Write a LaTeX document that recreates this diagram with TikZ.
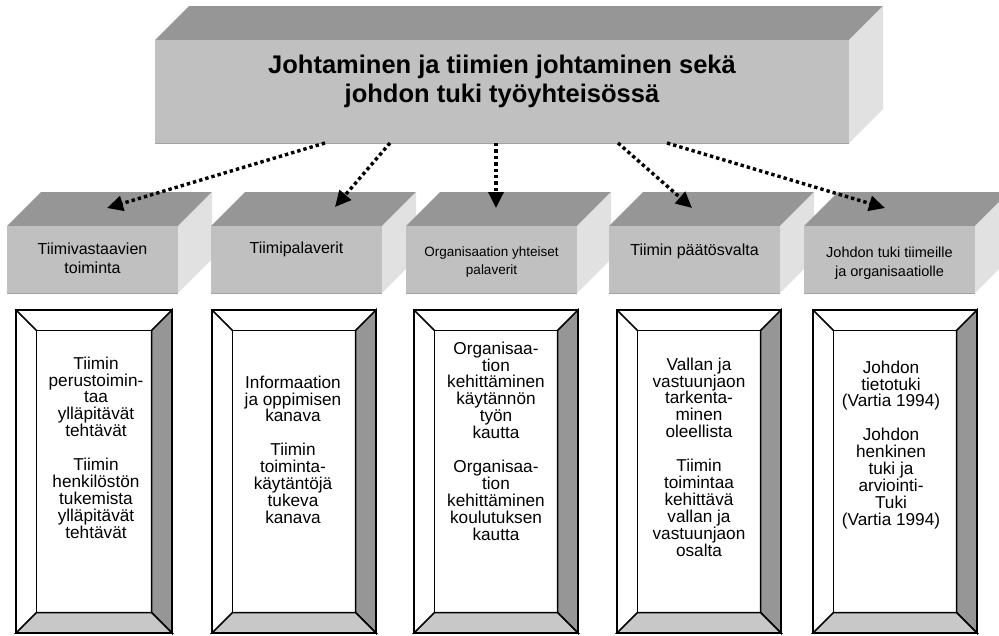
\documentclass[tikz,border=0pt]{standalone}
\usepackage{fontspec}
\setmainfont{Liberation Sans}
\usetikzlibrary{arrows.meta}

\definecolor{facetop}{RGB}{150,150,150}
\definecolor{facefront}{RGB}{192,192,192}
\definecolor{faceside}{RGB}{225,225,225}
\definecolor{bevelright}{RGB}{150,150,150}
\definecolor{bevelbottom}{RGB}{200,200,200}

% 3-D block: left, top, right, bottom, depth
\newcommand{\cuboid}[5]{%
  \fill[facetop] (#1,#2) -- (#1+#5,#2-#5) -- (#3+#5,#2-#5) -- (#3,#2) -- cycle;
  \fill[faceside] (#3,#2) -- (#3+#5,#2-#5) -- (#3+#5,#4-#5) -- (#3,#4) -- cycle;
  \fill[facefront] (#1,#2) rectangle (#3,#4);
  \draw[facefront!85!black, line width=1pt] (#1,#4) -- (#3,#4);
}

% bevelled picture frame: left, top, right, bottom, bevel width
\newcommand{\bevelframe}[5]{%
  \fill[white] (#1,#2) rectangle (#3,#4);
  \filldraw[framestroke, fill=bevelright] (#3,#2) -- (#3,#4) -- (#3-#5,#4-#5) -- (#3-#5,#2+#5) -- cycle;
  \filldraw[framestroke, fill=bevelbottom] (#1,#4) -- (#3,#4) -- (#3-#5,#4-#5) -- (#1+#5,#4-#5) -- cycle;
  \draw[framestroke] (#1,#2) -- (#1+#5,#2+#5);
  \draw[framestroke] (#1+#5,#2+#5) rectangle (#3-#5,#4-#5);
  \draw[framestroke] (#1,#2) rectangle (#3,#4);
}

\tikzset{
  framestroke/.style={draw=black, line width=1.5pt, line join=miter},
  headtext/.style={align=center, inner sep=0pt, font=\bfseries\fontsize{25.5}{29}\selectfont},
  blocktext/.style={align=center, inner sep=0pt, anchor=north},
  frametext/.style={align=center, inner sep=0pt, anchor=north, font=\fontsize{17.2}{16.9}\selectfont},
  dotarrow/.style={line width=3.4pt, dash pattern=on 3.4pt off 3pt,
    -{Triangle[length=16pt,width=15pt]}},
}

\begin{document}
\begin{tikzpicture}[x=1pt, y=-1pt]
\useasboundingbox (0,0) rectangle (999,635);
\clip (0,0) rectangle (999,635);

% main block
\cuboid{155}{40}{849}{143}{34}
\node[headtext] (head) at (502,81) {Johtaminen ja tiimien johtaminen sekä\\johdon tuki työyhteisössä};

% second-level blocks
\cuboid{7}{226}{178}{293}{34}
\cuboid{211}{226}{382}{293}{34}
\cuboid{406}{226}{577}{293}{34}
\cuboid{609}{226}{780}{293}{34}
\cuboid{804}{226}{975}{293}{34}

\node[blocktext, font=\fontsize{16}{19}\selectfont] (c1) at (92.5,243) {Tiimivastaavien\\toiminta};
\node[blocktext, font=\fontsize{16}{19}\selectfont] (c2) at (296.5,242) {Tiimipalaverit};
\node[blocktext, font=\fontsize{13.5}{18}\selectfont] (c3) at (491.5,247) {Organisaation yhteiset\\palaverit};
\node[blocktext, font=\fontsize{16}{19}\selectfont] (c4) at (694.5,244) {Tiimin päätösvalta};
\node[blocktext, font=\fontsize{14.5}{18.5}\selectfont] (c5) at (889.5,247) {Johdon tuki tiimeille\\ja organisaatiolle};

% connectors
\coordinate (a1s) at (325,143); \coordinate (a1e) at (107,208);
\coordinate (a2s) at (390,143); \coordinate (a2e) at (335,207);
\coordinate (a3s) at (496,143); \coordinate (a3e) at (496,208);
\coordinate (a4s) at (618,143); \coordinate (a4e) at (692,208);
\coordinate (a5s) at (667,143); \coordinate (a5e) at (885,208);
\foreach \k in {1,...,5} {\draw[dotarrow] (a\k s) -- (a\k e);}

% framed descriptions
\bevelframe{16}{310}{172}{633}{20.5}
\bevelframe{212}{310}{376}{633}{20.5}
\bevelframe{414}{310}{578}{633}{20.5}
\bevelframe{617}{310}{781}{633}{20.5}
\bevelframe{813}{310}{977}{633}{20.5}

\node[frametext] (d1) at (96,356.5) {Tiimin\\perustoimin-\\taa\\ylläpitävät\\tehtävät\\[16.9pt]Tiimin\\henkilöstön\\tukemista\\ylläpitävät\\tehtävät};
\node[frametext] (d2) at (293,375.5) {Informaation\\ja oppimisen\\kanava\\[16.9pt]Tiimin\\toiminta-\\käytäntöjä\\tukeva\\kanava};
\node[frametext] (d3) at (496,341.5) {Organisaa-\\tion\\kehittäminen\\käytännön\\työn\\kautta\\[16.9pt]Organisaa-\\tion\\kehittäminen\\koulutuksen\\kautta};
\node[frametext] (d4) at (699,357.5) {Vallan ja\\vastuunjaon\\tarkenta-\\minen\\oleellista\\[16.9pt]Tiimin\\toimintaa\\kehittävä\\vallan ja\\vastuunjaon\\osalta};
\node[frametext] (d5) at (891,360.5) {Johdon\\tietotuki\\(Vartia 1994)\\[16.9pt]Johdon\\henkinen\\tuki ja\\arviointi-\\Tuki\\(Vartia 1994)};
\end{tikzpicture}
\end{document}
